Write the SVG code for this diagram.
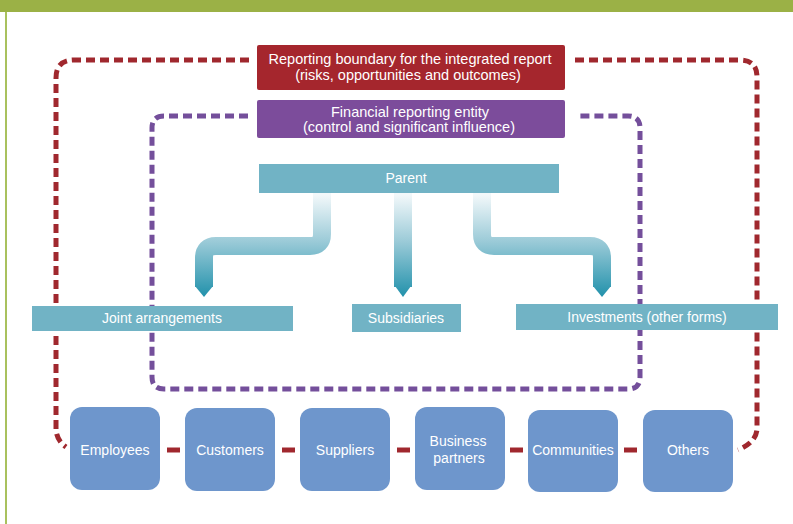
<svg xmlns="http://www.w3.org/2000/svg" width="793" height="524" viewBox="0 0 793 524">
  <style>
    .lbl { font-family: "Liberation Sans", Arial, sans-serif; fill: #ffffff; text-anchor: middle; }
    .t14 { font-size: 14px; }
    .t145 { font-size: 14.5px; }
    .bar { fill: #71b3c5; }
    .stk { fill: #6e96cc; }
    .red { fill: none; stroke: #a0282e; stroke-width: 5; stroke-dasharray: 9 5; }
    .pur { fill: none; stroke: #744f9b; stroke-width: 5; stroke-dasharray: 9 5; }
    .link { stroke: #a0282e; stroke-width: 5; }
    .tube { fill: none; stroke-width: 18; }
  </style>
  <defs>
    <linearGradient id="tg" gradientUnits="userSpaceOnUse" x1="0" y1="195" x2="0" y2="297">
      <stop offset="0" stop-color="#f2f8fa"/>
      <stop offset="0.45" stop-color="#9ccbd8"/>
      <stop offset="1" stop-color="#2191ab"/>
    </linearGradient>
  </defs>
  <rect x="0" y="0" width="793" height="524" fill="#ffffff"/>
  <!-- frame -->
  <rect x="0" y="0" width="793" height="12" fill="#9bb146"/>
  <rect x="5" y="12" width="2" height="512" fill="#a9c15e"/>

  <g id="connectors">
    <path class="red" d="M249,60 H74 Q56,60 56,78 V428 Q56,440 66,447"/>
    <path class="red" d="M575,60 H740 Q757,60 757,77 V428 Q757,442 738,450"/>
    <path class="pur" d="M248,116 H164 Q152,116 152,128 V377 Q152,389 164,389 H628 Q640,389 640,377 V128 Q640,116 628,116 H576"/>
    <line class="link" x1="167" y1="450" x2="180" y2="450"/>
    <line class="link" x1="282" y1="450" x2="295" y2="450"/>
    <line class="link" x1="397" y1="450" x2="410" y2="450"/>
    <line class="link" x1="510" y1="450" x2="523" y2="450"/>
    <line class="link" x1="624" y1="450" x2="637" y2="450"/>
    <g id="arrow-joint">
      <path class="tube" stroke="url(#tg)" d="M322,193 V234 Q322,246 310,246 H216 Q204,246 204,258 V287"/>
      <polygon fill="url(#tg)" points="195,286 213,286 204,297"/>
    </g>
    <g id="arrow-subsidiaries">
      <path class="tube" stroke="url(#tg)" stroke-width="16" d="M403,193 V287"/>
      <polygon fill="url(#tg)" points="395,286 411,286 403,297"/>
    </g>
    <g id="arrow-investments">
      <path class="tube" stroke="url(#tg)" d="M482,193 V234 Q482,246 494,246 H590 Q602,246 602,258 V287"/>
      <polygon fill="url(#tg)" points="593,286 611,286 602,297"/>
    </g>
  </g>

  <g id="reporting-boundary">
    <rect x="257" y="45" width="308" height="45" rx="2" fill="#a5262d"/>
    <text class="lbl t145" x="410" y="64">Reporting boundary for the integrated report</text>
    <text class="lbl t145" x="408" y="80">(risks, opportunities and outcomes)</text>
  </g>
  <g id="financial-entity">
    <rect x="257" y="100" width="308" height="38" rx="2" fill="#7c4c9b"/>
    <text class="lbl t145" x="410" y="117">Financial reporting entity</text>
    <text class="lbl t145" x="409" y="132">(control and significant influence)</text>
  </g>
  <g id="parent">
    <rect class="bar" x="259" y="164" width="300" height="29"/>
    <text class="lbl t14" x="406" y="183">Parent</text>
  </g>
  <g id="joint-arrangements">
    <rect class="bar" x="32" y="306" width="261" height="25"/>
    <text class="lbl t14" x="162" y="323">Joint arrangements</text>
  </g>
  <g id="subsidiaries">
    <rect class="bar" x="352" y="304" width="109" height="28"/>
    <text class="lbl t14" x="406" y="323">Subsidiaries</text>
  </g>
  <g id="investments">
    <rect class="bar" x="516" y="304" width="262" height="26"/>
    <text class="lbl t14" x="647" y="322">Investments (other forms)</text>
  </g>

  <g id="employees">
    <rect class="stk" x="70" y="407" width="90" height="83" rx="12"/>
    <text class="lbl t14" x="115" y="455">Employees</text>
  </g>
  <g id="customers">
    <rect class="stk" x="185" y="408" width="90" height="83" rx="12"/>
    <text class="lbl t14" x="230" y="455">Customers</text>
  </g>
  <g id="suppliers">
    <rect class="stk" x="300" y="408" width="90" height="83" rx="12"/>
    <text class="lbl t14" x="345" y="455">Suppliers</text>
  </g>
  <g id="business-partners">
    <rect class="stk" x="415" y="407" width="90" height="83" rx="12"/>
    <text class="lbl t14" x="458" y="446">Business</text>
    <text class="lbl t14" x="459" y="463">partners</text>
  </g>
  <g id="communities">
    <rect class="stk" x="528" y="410" width="90" height="82" rx="12"/>
    <text class="lbl t14" x="573" y="455">Communities</text>
  </g>
  <g id="others">
    <rect class="stk" x="643" y="410" width="90" height="82" rx="12"/>
    <text class="lbl t14" x="688" y="455">Others</text>
  </g>
</svg>
